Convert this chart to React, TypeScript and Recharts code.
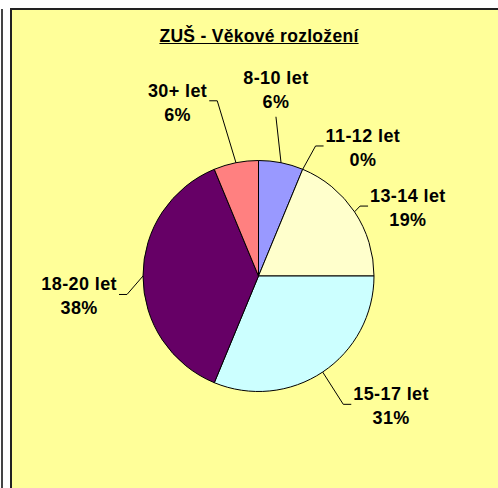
import { Cell, Pie, PieChart } from 'recharts';

// ZUŠ – age distribution (counts of pupils per age group)
const categories = ['8-10 let', '11-12 let', '13-14 let', '15-17 let', '18-20 let', '30+ let'];
const counts = [1, 0, 3, 5, 6, 1];
const sliceColors = ['#9999FF', '#993366', '#FFFFCC', '#CCFFFF', '#660066', '#FF8080'];

// label placement like Excel's best fit: leader length past the rim, angle nudge, side
const labelLayout = [
  { ext: 44.7, shift: -5, side: 'top' },
  { ext: 26.5, shift: 1.2, side: 'right' },
  { ext: 7.8, shift: -0.8, side: 'right' },
  { ext: 38.3, shift: 0.3, side: 'right' },
  { ext: 17.3, shift: -8, side: 'left' },
  { ext: 64.5, shift: -2, side: 'left' },
];

const FONT = '"Liberation Sans", Arial, sans-serif';
const LABEL_SIZE = 18;
const LABEL_SPACING = 0.4;
const LINE_GAP = 23.8;
const RAD = Math.PI / 180;

const chartData = categories.map((name, i) => ({ name, value: counts[i] }));

let ctx: CanvasRenderingContext2D | null = null;
function textWidth(s: string) {
  if (!ctx && typeof document !== 'undefined') ctx = document.createElement('canvas').getContext('2d');
  if (!ctx) return s.length * 9;
  ctx.font = `bold ${LABEL_SIZE}px "Liberation Sans"`;
  return ctx.measureText(s).width + LABEL_SPACING * s.length;
}

function renderLabel(props: any) {
  const { cx, cy, midAngle, outerRadius, index, percent, name } = props;
  const lay = labelLayout[index];
  const a0 = -midAngle * RAD;
  const sx = cx + outerRadius * Math.cos(a0);
  const sy = cy + outerRadius * Math.sin(a0);
  const a1 = -(midAngle - lay.shift) * RAD;
  const ex = cx + (outerRadius + lay.ext) * Math.cos(a1);
  const ey = cy + (outerRadius + lay.ext) * Math.sin(a1);
  const pct = `${Math.round(percent * 100)}%`;
  const w = Math.max(textWidth(name), textWidth(pct));

  let path: string;
  let tx: number;
  let y1: number;
  if (lay.side === 'top') {
    path = `M${sx},${sy}L${ex},${ey}`;
    tx = ex;
    y1 = ey - 9 - LINE_GAP;
  } else if (lay.side === 'right') {
    path = `M${sx},${sy}L${ex},${ey}L${ex + 8},${ey}`;
    tx = ex + 10 + w / 2;
    y1 = ey - 4;
  } else {
    path = `M${sx},${sy}L${ex},${ey}L${ex - 8},${ey}`;
    tx = ex - 10 - w / 2;
    y1 = ey - 4;
  }

  return (
    <g key={`lbl-${index}`}>
      <path d={path} stroke="#000" strokeWidth={1} fill="none" />
      <text
        x={tx}
        y={y1}
        textAnchor="middle"
        fontFamily={FONT}
        fontWeight="bold"
        fontSize={LABEL_SIZE}
        letterSpacing={LABEL_SPACING}
        fill="#000"
      >
        <tspan x={tx} y={y1}>{name}</tspan>
        <tspan x={tx} y={y1 + LINE_GAP}>{pct}</tspan>
      </text>
    </g>
  );
}

export default function App() {
  return (
    <div style={{ position: 'fixed', left: 0, top: 0, width: 498, height: 488, background: '#fff', overflow: 'hidden' }}>
      <div style={{ position: 'absolute', left: 1, top: 9, width: 2, height: 479, background: '#444' }} />
      <div
        style={{
          position: 'absolute',
          left: 10,
          top: 8,
          width: 486,
          height: 478,
          borderLeft: '2px solid #222',
          borderTop: '2px solid #222',
          background: '#FFFF99',
        }}
      >
        <div
          style={{
            position: 'absolute',
            left: 247 - 150,
            top: 16,
            width: 300,
            textAlign: 'center',
            fontFamily: FONT,
            fontWeight: 'bold',
            fontSize: 17.5,
            lineHeight: '20px',
            letterSpacing: 0.3,
            textDecoration: 'underline',
            color: '#000',
          }}
        >
          ZUŠ - Věkové rozložení
        </div>
        <PieChart
          width={486}
          height={478}
          margin={{ top: 0, right: 0, bottom: 0, left: 0 }}
          style={{ position: 'absolute', left: 0, top: 0 }}
        >
          <Pie
            data={chartData}
            dataKey="value"
            nameKey="name"
            cx={246.5}
            cy={266}
            outerRadius={115.5}
            startAngle={90}
            endAngle={-270}
            stroke="#000"
            strokeWidth={1}
            label={renderLabel}
            labelLine={false}
            isAnimationActive={false}
          >
            {chartData.map((d, i) => (
              <Cell key={d.name} fill={sliceColors[i]} />
            ))}
          </Pie>
        </PieChart>
      </div>
    </div>
  );
}
